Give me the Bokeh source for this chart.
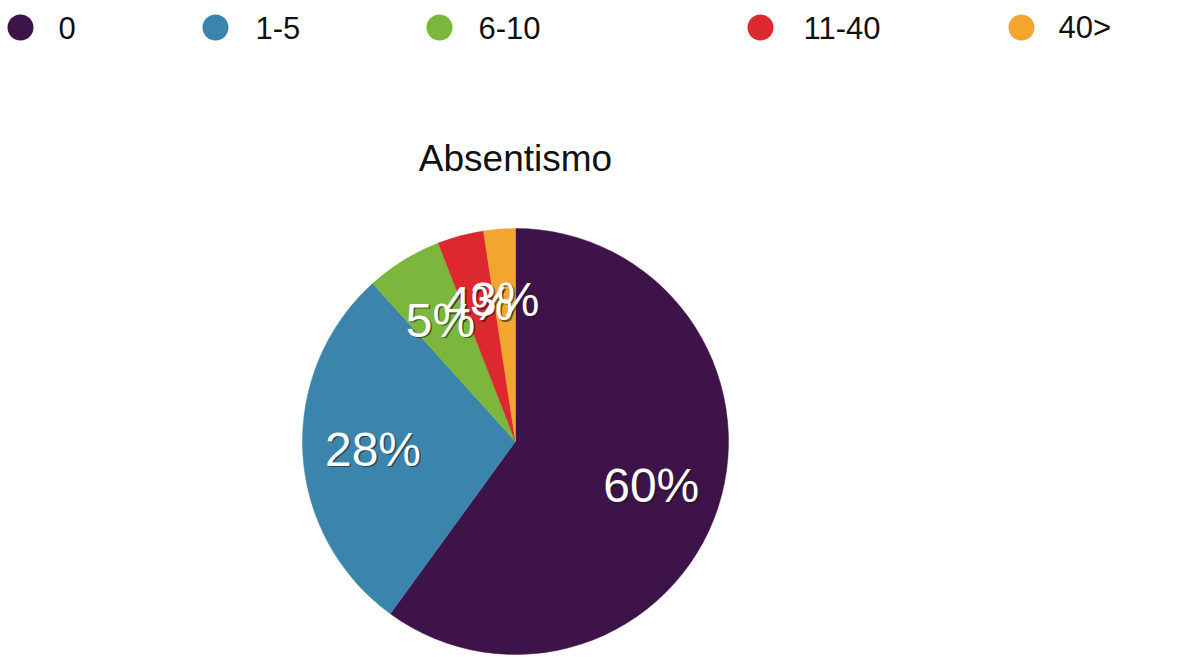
import numpy as np
from bokeh.plotting import figure
from bokeh.models import Range1d, ColumnDataSource
from bokeh.core.properties import value
from bokeh.embed import file_html
from bokeh.resources import INLINE

# ---- data ----
categories = ["0", "1-5", "6-10", "11-40", "40>"]
percents = [60.0, 28.3, 5.8, 3.5, 2.4]
labels = ["60%", "28%", "5%", "4%", "3%"]
colors = ["#3e1349", "#3b84ab", "#7cb63d", "#dc282e", "#f2a52f"]
title_text = "Absentismo"

# ---- layout constants ----
W, H = 1196, 657
CX, CY = 515, H - 441
R = 213
FONT = value("Liberation Sans")

p = figure(width=W, height=H, x_range=Range1d(0, W), y_range=Range1d(0, H),
           output_backend="svg", toolbar_location=None, min_border=0)
p.axis.visible = False
p.grid.visible = False
p.outline_line_color = None
p.background_fill_color = "white"

vals = np.array(percents, dtype=float)
frac = vals / vals.sum()
cum = np.concatenate([[0], np.cumsum(frac)])
start = np.pi / 2 - cum[:-1] * 2 * np.pi
end = np.pi / 2 - cum[1:] * 2 * np.pi
mid = (start + end) / 2

src = ColumnDataSource(dict(start=start, end=end, color=colors,
                            lx=CX + 0.67 * R * np.cos(mid),
                            ly=CY + 0.67 * R * np.sin(mid),
                            label=labels))
p.wedge(x=CX, y=CY, radius=R, start_angle="start", end_angle="end",
        direction="clock", fill_color="color", line_color="color",
        line_width=0.5, source=src)

# label shadows then labels
p.text(x="lx", y="ly", text="label", source=src, text_font=FONT,
       text_font_size="48px", text_color="#1a1a1a", text_alpha=0.6,
       text_align="center", text_baseline="middle", x_offset=1.5, y_offset=1.5)
p.text(x="lx", y="ly", text="label", source=src, text_font=FONT,
       text_font_size="48px", text_color="white",
       text_align="center", text_baseline="middle")

# title
p.text(x=[CX], y=[H - 158], text=[title_text], text_font=FONT,
       text_font_size="37px", text_color="#111111",
       text_align="center", text_baseline="middle")

# legend
leg_x = [20, 215, 439, 760, 1021]
leg_tx = [58, 255, 478, 803, 1058]
leg_y = H - 27
p.scatter(x=leg_x, y=[leg_y] * 5, size=26, marker="circle",
          fill_color=colors, line_color=None)
p.text(x=leg_tx, y=[leg_y] * 5, text=categories, text_font=FONT,
       text_font_size="31px", text_color="#111111",
       text_align="left", text_baseline="middle")

open("out.html", "w").write(file_html(p, INLINE))
